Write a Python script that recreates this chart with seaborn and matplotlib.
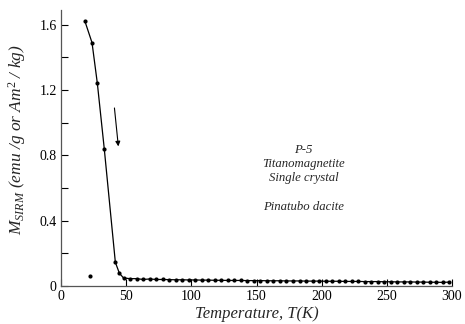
import matplotlib
matplotlib.use("Agg")
import matplotlib.pyplot as plt
import seaborn as sns
import pandas as pd
from matplotlib.ticker import MultipleLocator, FixedLocator

# ---- data ----
temp_low = [18.4, 23.8, 27.9, 33.2, 41.7, 44.8]
m_low = [1.62, 1.49, 1.24, 0.84, 0.145, 0.078]

temp_flat = [48, 53, 58, 63, 68, 73, 78, 83, 88, 93, 98, 103, 108, 113, 118,
             123, 128, 133, 138, 143, 148, 153, 158, 163, 168, 173, 178, 183,
             188, 193, 198, 203, 208, 213, 218, 223, 228, 233, 238, 243, 248,
             253, 258, 263, 268, 273, 278, 283, 288, 293, 298]
m_flat = [0.049, 0.045, 0.045, 0.040, 0.043, 0.040, 0.040, 0.039, 0.038, 0.038,
          0.037, 0.037, 0.036, 0.036, 0.035, 0.035, 0.034, 0.034, 0.034, 0.033,
          0.033, 0.033, 0.032, 0.032, 0.032, 0.031, 0.031, 0.031, 0.030, 0.030,
          0.030, 0.029, 0.029, 0.029, 0.028, 0.028, 0.028, 0.027, 0.027, 0.027,
          0.026, 0.026, 0.025, 0.025, 0.025, 0.024, 0.024, 0.023, 0.023, 0.022,
          0.024]

outlier_t = [22.0]
outlier_m = [0.063]

x_ticks = [0, 50, 100, 150, 200, 250, 300]
y_ticks = [0, 0.4, 0.8, 1.2, 1.6]
y_tick_labels = ["0", "0.4", "0.8", "1.2", "1.6"]

annotation_lines = ["P-5", "Titanomagnetite", "Single crystal"]
annotation_extra = "Pinatubo dacite"

df = pd.DataFrame({"T": temp_low + temp_flat, "M": m_low + m_flat})
df_out = pd.DataFrame({"T": outlier_t, "M": outlier_m})

sns.set_theme(style="ticks")
plt.rcParams["font.family"] = ["Liberation Serif", "DejaVu Serif"]
plt.rcParams["mathtext.fontset"] = "custom"
plt.rcParams["mathtext.it"] = "Liberation Serif:italic"
plt.rcParams["mathtext.rm"] = "Liberation Serif"

fig = plt.figure(figsize=(4.65, 3.24), dpi=100)
ax = fig.add_axes([61 / 465, 1 - 286 / 324, (452 - 61) / 465, (286 - 10) / 324])

sns.lineplot(data=df, x="T", y="M", ax=ax, color="black", linewidth=0.9,
             estimator=None, sort=True)
sns.scatterplot(data=df, x="T", y="M", ax=ax, color="black", s=9,
                edgecolor="black", linewidth=0, zorder=3)
sns.scatterplot(data=df_out, x="T", y="M", ax=ax, color="black", s=9,
                edgecolor="black", linewidth=0, zorder=3)

ax.set_xlim(0, 300)
ax.set_ylim(0, 1.69)
ax.xaxis.set_major_locator(FixedLocator(x_ticks))
ax.yaxis.set_major_locator(FixedLocator(y_ticks))
ax.set_yticklabels(y_tick_labels)
ax.yaxis.set_minor_locator(MultipleLocator(0.2))
ax.tick_params(which="both", direction="in", length=5, width=0.8,
               labelsize=10, colors="black", pad=3)
ax.tick_params(axis="y", which="minor", length=5)

for side in ["top", "right"]:
    ax.spines[side].set_visible(False)
for side in ["left", "bottom"]:
    ax.spines[side].set_color("#555555")
    ax.spines[side].set_linewidth(0.9)

ax.set_xlabel("Temperature, T(K)", fontsize=12, fontstyle="italic", labelpad=2)
ax.set_ylabel(r"$M_{SIRM}$ (emu /g or Am$^2$ / kg)", fontsize=12.5,
              fontstyle="italic", labelpad=6)
ax.yaxis.set_label_coords(-0.085, 0.529)

ax.text(186, 0.747, "\n".join(annotation_lines), ha="center", va="center",
        fontsize=9.2, fontstyle="italic", linespacing=1.25)
ax.text(186, 0.484, annotation_extra, ha="center", va="center",
        fontsize=9.2, fontstyle="italic")

ax.annotate("", xy=(44, 0.855), xytext=(41, 1.09),
            arrowprops=dict(arrowstyle="-|>", color="black", lw=0.8,
                            mutation_scale=7, shrinkA=0, shrinkB=0))

fig.savefig("out.png", dpi=100)
